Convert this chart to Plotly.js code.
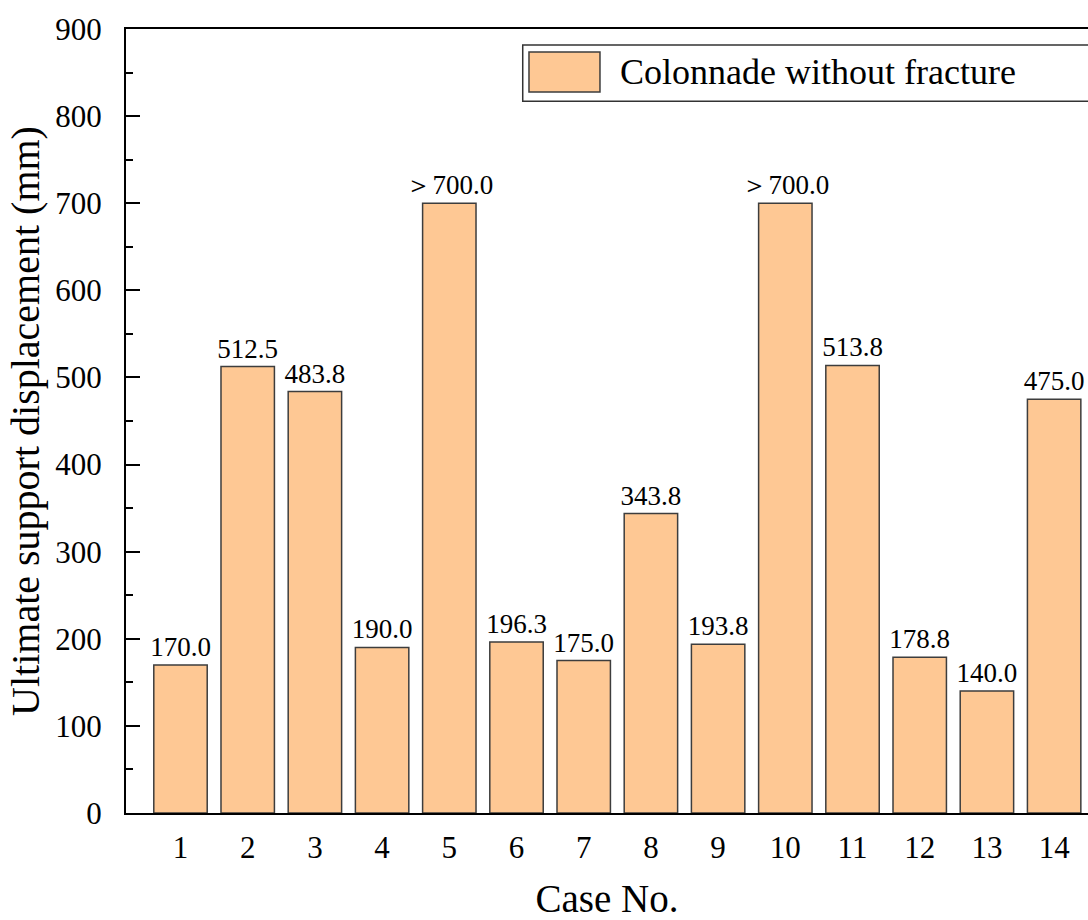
<!DOCTYPE html>
<html>
<head>
<meta charset="utf-8">
<script src="https://cdn.plot.ly/plotly-3.0.1.min.js"></script>
<style>html,body{margin:0;padding:0;background:#fff;}#chart{width:1088px;height:920px;}</style>
</head>
<body>
<div id="chart"></div>
<script>
const cases = [1, 2, 3, 4, 5, 6, 7, 8, 9, 10, 11, 12, 13, 14];
const displacement = [170.0, 512.5, 483.8, 190.0, 700.0, 196.3, 175.0, 343.8, 193.8, 700.0, 513.8, 178.8, 140.0, 475.0];
const exceeds = [false, false, false, false, true, false, false, false, false, true, false, false, false, false];
const seriesName = 'Colonnade without fracture';
const yTicks = [0, 100, 200, 300, 400, 500, 600, 700, 800, 900];

const labels = displacement.map((v, i) => (exceeds[i] ? '＞' : '') + v.toFixed(1));
const serif = 'Liberation Serif, Times New Roman, serif';

const trace = {
  type: 'bar',
  x: cases,
  y: displacement,
  name: seriesName,
  text: labels,
  textposition: 'outside',
  constraintext: 'none',
  textfont: {family: serif, size: 27, color: '#000'},
  cliponaxis: false,
  marker: {color: '#FEC894', line: {color: '#3d3d3d', width: 1.5}},
  hoverinfo: 'x+y'
};

const layout = {
  width: 1088,
  height: 920,
  margin: {l: 126, r: 0, t: 29, b: 107, pad: 0},
  paper_bgcolor: '#fff',
  plot_bgcolor: '#fff',
  showlegend: false,
  bargap: 0.205,
  font: {family: serif, color: '#000'},
  xaxis: {
    range: [0.189, 14.504],
    tickmode: 'array',
    tickvals: cases,
    ticktext: cases.map(String),
    ticks: '',
    showgrid: false,
    zeroline: false,
    showline: true,
    linecolor: '#000',
    linewidth: 2,
    mirror: true,
    tickfont: {family: serif, size: 31, color: '#000'},
    ticklabelstandoff: 6,
    title: {text: 'Case No.', font: {family: serif, size: 39, color: '#000'}, standoff: 40},
    automargin: false
  },
  yaxis: {
    range: [0, 900],
    tickmode: 'array',
    tickvals: yTicks,
    ticktext: yTicks.map(String),
    ticks: 'inside',
    ticklen: 14,
    tickwidth: 2,
    tickcolor: '#000',
    minor: {dtick: 50, ticks: 'inside', ticklen: 7, tickwidth: 2, tickcolor: '#000', showgrid: false},
    showgrid: false,
    zeroline: false,
    showline: true,
    linecolor: '#000',
    linewidth: 2,
    tickfont: {family: serif, size: 31, color: '#000'},
    ticklabelstandoff: 16,
    title: {text: 'Ultimate support displacement (mm)', font: {family: serif, size: 40, color: '#000'}, standoff: 3},
    automargin: false
  },
  shapes: [
    {type: 'rect', xref: 'paper', yref: 'paper', x0: 0.4124, x1: 1.05, y0: 0.908, y1: 0.9796,
     line: {color: '#333', width: 1.5}, fillcolor: 'rgba(255,255,255,0)'},
    {type: 'rect', xref: 'paper', yref: 'paper', x0: 0.4189, x1: 0.4927, y0: 0.9196, y1: 0.9707,
     line: {color: '#3d3d3d', width: 1.5}, fillcolor: '#FEC894'}
  ],
  annotations: [
    {xref: 'paper', yref: 'paper', x: 0.5114, y: 0.9452, xanchor: 'left', yanchor: 'middle',
     text: seriesName, showarrow: false, font: {family: serif, size: 36, color: '#000'}}
  ]
};

Plotly.newPlot('chart', [trace], layout, {displayModeBar: false, staticPlot: true});
</script>
</body>
</html>
